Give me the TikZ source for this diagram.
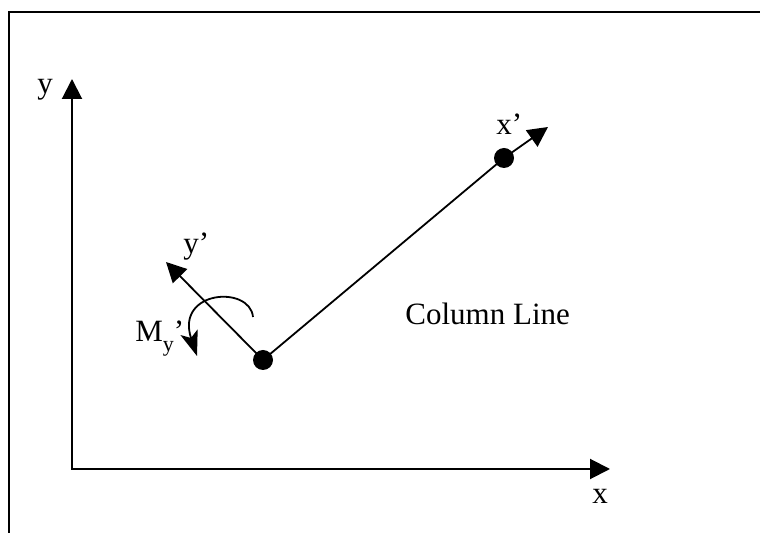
\documentclass[tikz,border=0pt]{standalone}
\usepackage{fontspec}
\setmainfont{Liberation Serif}
\usetikzlibrary{arrows.meta}
\begin{document}
\begin{tikzpicture}[x=0.5pt,y=-0.5pt,
  dot/.style={circle,fill=black,inner sep=0pt,minimum size=10pt},
  lbl/.style={inner sep=0pt,anchor=base west,font=\fontsize{15.5}{18}\selectfont},
  axisline/.style={line width=1pt},
  cline/.style={line width=0.9pt},
  midtip/.style={-{Triangle[length=10pt,width=10pt]}},
  momtip/.style={-{Stealth[length=12.5pt,width=9pt,inset=3pt]}}
]
\useasboundingbox (0,0) rectangle (760,533);
% frame (cropped)
\draw[axisline] (9,533) -- (9,12) -- (760,12);
% axes
\coordinate (O) at (72,469);
\coordinate (ytip) at (72,79);
\coordinate (xtip) at (610,469);
\draw[axisline,{Triangle[length=10pt,width=10pt]}-{Triangle[length=10pt,width=10pt]}] (ytip) -- (O) -- (xtip);
\node[lbl] (ylab) at (37,94) {y};
\node[lbl] (xlab) at (592,504) {x};
% column line
\node[dot] (o) at (263,360) {};
\node[dot] (p) at (504,158) {};
\coordinate (xptip) at (548,127);
\coordinate (yptip) at (166,262);
\draw[cline] (o.center) -- (p.center);
\draw[cline,midtip] (p.center) -- (xptip);
\draw[cline,midtip] (o.center) -- (yptip);
\node[lbl] (xplab) at (496,135) {x’};
\node[lbl] (yplab) at (183,254) {y’};
% moment
\coordinate (ms) at (253,317);
\coordinate (me) at (197,356);
\draw[cline,momtip] (ms) .. controls (250,285) and (175,290) .. (me);
\node[lbl] (mlab) at (135,342) {M\raisebox{-0.3em}{\fontsize{11}{13}\selectfont y}’};
% column line label
\node[lbl] (cl) at (405,325) {Column Line};
\end{tikzpicture}
\end{document}
